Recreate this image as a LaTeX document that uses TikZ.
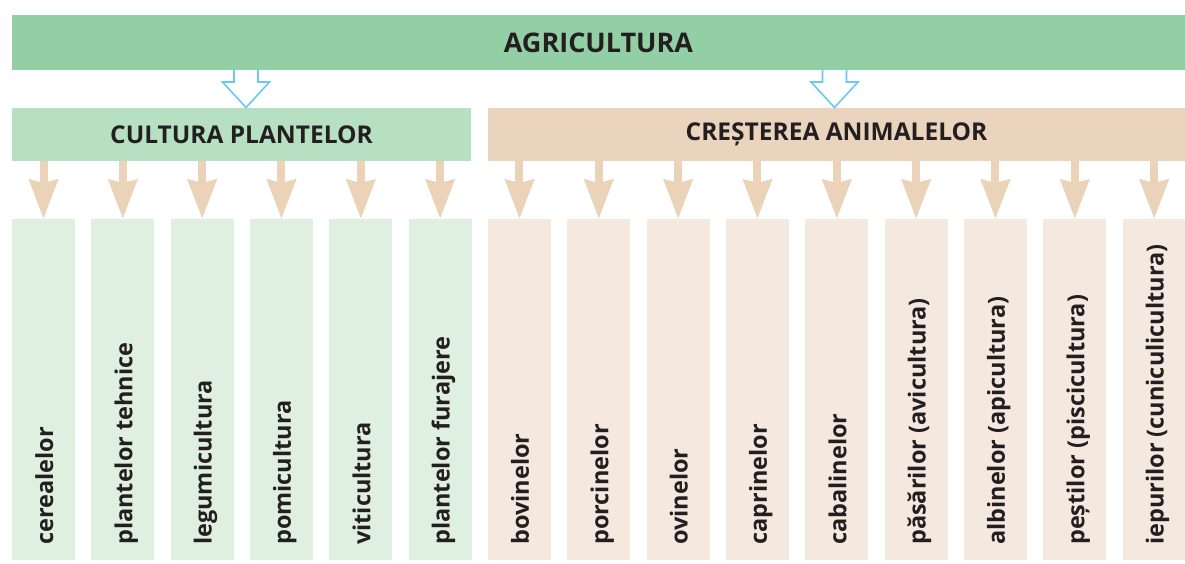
\documentclass[tikz,border=0pt]{standalone}
\usepackage{fontspec}
\setmainfont{Open Sans}
\usetikzlibrary{arrows.meta,calc}
\definecolor{topgreen}{RGB}{147,207,165}
\definecolor{midgreen}{RGB}{183,224,195}
\definecolor{peach}{RGB}{235,212,189}
\definecolor{colgreen}{RGB}{223,240,225}
\definecolor{colpeach}{RGB}{245,232,222}
\definecolor{tanarrow}{RGB}{235,211,186}
\definecolor{arrblue}{RGB}{108,200,240}
\definecolor{txt}{RGB}{35,31,32}
\begin{document}
\begin{tikzpicture}[x=1pt,y=-1pt,
  hdr/.style={anchor=north west, inner sep=0pt, outer sep=0pt, text=txt,
    font=\bfseries\fontsize{24.5}{28}\selectfont},
  col/.style={anchor=north west, minimum width=63pt, minimum height=341pt, inner sep=0pt, outer sep=0pt},
  lab/.style={rotate=90, anchor=base west, inner sep=0pt, text=txt,
    font=\bfseries\fontsize{23.5}{26}\selectfont},
  darr/.style={line width=8pt, draw=tanarrow, -{Stealth[length=39pt,width=28pt,inset=3pt]}},
  hollow/.style={draw=arrblue, line width=1.6pt, fill=white, line join=miter}]
\useasboundingbox (0,0) rectangle (1185,563);
\node[hdr, fill=topgreen, minimum width=1173pt, minimum height=55pt,
  font=\bfseries\fontsize{27}{30}\selectfont] (top) at (12,15) {AGRICULTURA};
\node[hdr, fill=midgreen, minimum width=459pt, minimum height=53pt] (cp) at (12,108) {CULTURA PLANTELOR};
\node[hdr, fill=peach, minimum width=697pt, minimum height=53pt] (ca) at (488,108) {CREȘTEREA ANIMALELOR};
% hollow arrows
\coordinate (h1) at (246,70);
\coordinate (h2) at (834.5,70);
\foreach \h in {h1,h2}{
  \draw[hollow] ($(\h)+(-12,0)$) -- ++(0,12) -- ++(-11.5,0) -- ($(\h)+(0,37.5)$) -- ($(\h)+(23.5,12)$) -- ++(-11.5,0) -- ($(\h)+(12,0)$);
}
% columns
\foreach \lbl [count=\i] in {cerealelor,plantelor tehnice,legumicultura,pomicultura,viticultura,plantelor furajere}{
  \node[col, fill=colgreen] (c\i) at ({12+(\i-1)*79.33},219) {};
  \node[lab] (l\i) at ({12+(\i-1)*79.33+41},545) {\lbl};
  \draw[darr] (cp.south -| c\i.north) -- (c\i.north);
}
\foreach \lbl [count=\j] in {bovinelor,porcinelor,ovinelor,caprinelor,cabalinelor,păsărilor (avicultura),albinelor (apicultura),peștilor (piscicultura),iepurilor (cuniculicultura)}{
  \pgfmathtruncatemacro{\i}{\j+6}
  \node[col, fill=colpeach] (c\i) at ({12+(\i-1)*79.33},219) {};
  \node[lab] (l\i) at ({12+(\i-1)*79.33+41},545) {\lbl};
  \draw[darr] (ca.south -| c\i.north) -- (c\i.north);
}
\end{tikzpicture}
\end{document}
